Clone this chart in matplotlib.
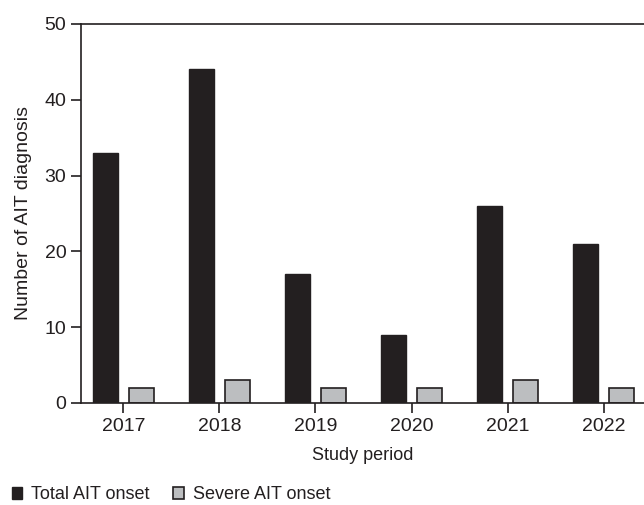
import matplotlib
matplotlib.use('Agg')
import matplotlib.pyplot as plt
import numpy as np

plt.rcParams['font.family'] = ['Liberation Sans', 'DejaVu Sans']

years = ['2017', '2018', '2019', '2020', '2021', '2022']
total = [33, 44, 17, 9, 26, 21]
severe = [2, 3, 2, 2, 3, 2]

x = np.arange(len(years))
w = 0.26

fig = plt.figure(figsize=(6.44, 5.05), dpi=100)
ax = fig.add_axes([0.1258, 0.202, 0.8742, 0.7505])

ax.bar(x - 0.19, total, w, color='#231f20', edgecolor='#231f20', linewidth=1, label='Total AIT onset')
ax.bar(x + 0.19, severe, w, color='#bcbec0', edgecolor='#231f20', linewidth=1.2, label='Severe AIT onset')

ax.set_xlim(-0.44, 5.42)
ax.set_ylim(0, 50)
ax.set_yticks([0, 10, 20, 30, 40, 50])
ax.set_xticks(x)
ax.set_xticklabels(years)
ax.tick_params(axis='both', labelsize=14, length=7, width=1.2, color='#231f20', labelcolor='#231f20')
for s in ['left', 'bottom', 'top']:
    ax.spines[s].set_linewidth(1.2)
    ax.spines[s].set_color('#231f20')
ax.spines['right'].set_visible(False)

ax.set_xlabel('Study period', fontsize=13, color='#231f20', labelpad=9)
ax.set_ylabel('Number of AIT diagnosis', fontsize=14, color='#231f20', labelpad=9)

fig.legend(loc='center left', bbox_to_anchor=(0.018, 0.02), ncol=2, frameon=False,
           fontsize=13, handlelength=0.6, handleheight=0.6, handletextpad=0.5,
           columnspacing=1.3, borderpad=0, borderaxespad=0, labelcolor='#231f20')

fig.savefig('out.png', dpi=100)
